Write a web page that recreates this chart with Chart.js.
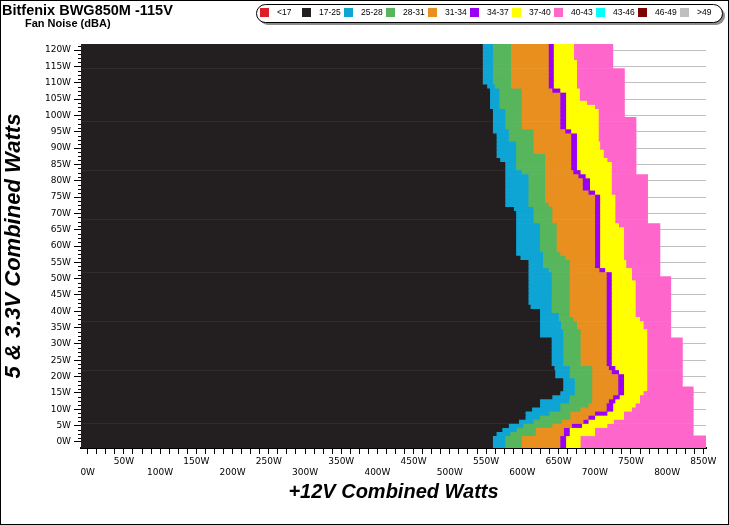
<!DOCTYPE html>
<html>
<head>
<meta charset="utf-8">
<script src="https://cdn.jsdelivr.net/npm/chart.js@4.4.1/dist/chart.umd.min.js"></script>
<style>
    html, body { margin: 0; padding: 0; background: #fff; }
    #wrap { width: 729px; height: 525px; }
</style>
</head>
<body>
<div id="wrap"><canvas id="noiseChart" width="729" height="525"></canvas></div>
<script>
// 5V + 3.3V load rows of the noise map (watts, 1.25 W apart)
const loadRows = [
    -1.25, 0, 1.25, 2.5, 3.75, 5, 6.25, 7.5, 8.75, 10,
    11.25, 12.5, 13.75, 15, 16.25, 17.5, 18.75, 20, 21.25, 22.5,
    23.75, 25, 26.25, 27.5, 28.75, 30, 31.25, 32.5, 33.75, 35,
    36.25, 37.5, 38.75, 40, 41.25, 42.5, 43.75, 45, 46.25, 47.5,
    48.75, 50, 51.25, 52.5, 53.75, 55, 56.25, 57.5, 58.75, 60,
    61.25, 62.5, 63.75, 65, 66.25, 67.5, 68.75, 70, 71.25, 72.5,
    73.75, 75, 76.25, 77.5, 78.75, 80, 81.25, 82.5, 83.75, 85,
    86.25, 87.5, 88.75, 90, 91.25, 92.5, 93.75, 95, 96.25, 97.5,
    98.75, 100, 101.25, 102.5, 103.75, 105, 106.25, 107.5, 108.75, 110,
    111.25, 112.5, 113.75, 115, 116.25, 117.5, 118.75, 120, 121.25
];

// +12V watts where each noise band ends, one value per row
const blackEnd = [
    559, 559, 559, 564, 572, 581, 595, 604, 604, 613,
    624, 624, 641, 652, 656, 656, 656, 645, 645, 644,
    640, 640, 640, 640, 640, 640, 640, 624, 624, 624,
    624, 624, 624, 624, 611, 608, 608, 608, 608, 608,
    608, 608, 608, 608, 608, 608, 597, 591, 591, 591,
    591, 591, 591, 591, 591, 591, 591, 591, 588, 576,
    576, 576, 576, 576, 576, 576, 576, 576, 576, 576,
    569, 564, 564, 564, 564, 564, 564, 559, 559, 559,
    559, 559, 559, 555, 555, 555, 555, 555, 551, 545,
    545, 545, 545, 545, 545, 545, 545, 545, 545
];
const blueEnd = [
    576, 576, 576, 583, 592, 601, 615, 624, 637, 652,
    652, 664, 665, 672, 672, 672, 672, 665, 665, 665,
    656, 656, 656, 656, 656, 656, 656, 656, 656, 653,
    653, 650, 650, 640, 640, 640, 640, 640, 640, 640,
    640, 640, 640, 636, 628, 628, 628, 628, 624, 624,
    624, 624, 624, 624, 624, 615, 615, 615, 615, 608,
    608, 608, 608, 608, 608, 608, 608, 599, 591, 591,
    591, 591, 591, 591, 591, 581, 581, 581, 576, 576,
    576, 576, 576, 568, 568, 568, 568, 568, 562, 559,
    559, 559, 559, 559, 559, 559, 559, 559, 559
];
const greenEnd = [
    599, 599, 599, 618, 618, 641, 654, 666, 666, 680,
    691, 696, 696, 696, 696, 696, 696, 696, 696, 696,
    680, 680, 680, 680, 680, 680, 680, 680, 680, 675,
    675, 670, 665, 665, 665, 665, 665, 665, 665, 665,
    665, 665, 665, 665, 665, 665, 659, 652, 647, 647,
    647, 647, 647, 647, 647, 641, 641, 641, 641, 636,
    631, 631, 631, 631, 631, 631, 631, 631, 631, 631,
    631, 631, 615, 615, 615, 615, 615, 615, 599, 599,
    599, 599, 599, 599, 599, 599, 599, 599, 584, 584,
    584, 584, 584, 584, 584, 584, 584, 584, 584
];
const orangeEnd = [
    652, 652, 652, 657, 657, 668, 684, 691, 700, 716,
    716, 719, 725, 732, 732, 732, 732, 732, 723, 719,
    716, 716, 716, 716, 716, 716, 716, 716, 716, 716,
    716, 716, 716, 716, 716, 716, 716, 716, 716, 716,
    716, 716, 716, 706, 700, 700, 700, 700, 700, 700,
    700, 700, 700, 700, 700, 700, 700, 700, 700, 700,
    700, 700, 691, 683, 683, 683, 677, 670, 667, 667,
    667, 667, 667, 667, 667, 667, 667, 659, 652, 652,
    652, 652, 652, 652, 652, 652, 652, 641, 636, 636,
    636, 636, 636, 636, 636, 636, 636, 636, 636
];
const purpleEnd = [
    660, 660, 660, 665, 665, 682, 691, 700, 717, 725,
    725, 728, 734, 740, 740, 740, 740, 740, 733, 728,
    723, 723, 723, 723, 723, 723, 723, 723, 723, 723,
    723, 723, 723, 723, 723, 723, 723, 723, 723, 723,
    723, 723, 723, 714, 707, 707, 707, 707, 707, 707,
    707, 707, 707, 707, 707, 707, 707, 707, 707, 707,
    707, 707, 700, 693, 693, 693, 687, 680, 675, 675,
    675, 675, 675, 675, 675, 675, 675, 667, 660, 660,
    660, 660, 660, 660, 660, 660, 660, 652, 643, 643,
    643, 643, 643, 643, 643, 643, 643, 643, 643
];
const yellowEnd = [
    680, 680, 680, 700, 700, 717, 726, 740, 740, 751,
    756, 762, 762, 767, 772, 772, 772, 772, 772, 772,
    772, 772, 772, 772, 772, 772, 772, 772, 772, 767,
    767, 762, 756, 756, 756, 756, 756, 756, 756, 756,
    756, 751, 751, 751, 743, 743, 740, 740, 740, 740,
    740, 740, 740, 740, 733, 728, 728, 728, 728, 728,
    728, 728, 723, 723, 723, 723, 723, 723, 723, 723,
    717, 712, 712, 707, 707, 705, 705, 705, 705, 705,
    705, 705, 705, 700, 689, 679, 679, 679, 675, 675,
    675, 675, 675, 675, 675, 671, 671, 671, 671
];
const pinkEnd = [
    854, 854, 854, 836, 836, 836, 836, 836, 836, 836,
    836, 836, 836, 836, 836, 821, 821, 821, 821, 821,
    821, 821, 821, 821, 821, 821, 821, 805, 805, 805,
    805, 805, 805, 805, 805, 805, 805, 805, 805, 805,
    805, 805, 790, 790, 790, 790, 790, 790, 790, 790,
    790, 790, 790, 790, 790, 773, 773, 773, 773, 773,
    773, 773, 773, 773, 773, 773, 773, 757, 757, 757,
    757, 757, 757, 757, 757, 757, 757, 757, 757, 757,
    757, 741, 741, 741, 741, 741, 741, 741, 741, 741,
    741, 741, 741, 725, 725, 725, 725, 725, 725
];

// noise classes (dBA) and their colours
const legendLabels = ['<17', '17-25', '25-28', '28-31', '31-34', '34-37', '37-40', '40-43', '43-46', '46-49', '>49'];
const legendColors = ['#dd2027', '#231f20', '#0ea4d4', '#57b65b', '#e98f1f', '#9b00f5', '#ffff00', '#ff66cc', '#00ffff', '#7f0000', '#bfbfbf'];

// axis ranges (watts)
const X_MIN = -9.25, X_MAX = 853.6;
const Y_MIN = -1.875, Y_MAX = 121.875;

const bandEnds = [blackEnd, blueEnd, greenEnd, orangeEnd, purpleEnd, yellowEnd, pinkEnd];

const datasets = bandEnds.map((ends, b) => ({
    label: legendLabels[b + 1],
    data: loadRows.map((load, i) => ({
        y: load,
        x: [b === 0 ? X_MIN : bandEnds[b - 1][i], ends[i]]
    })),
    backgroundColor: legendColors[b + 1],
    borderWidth: 0,
    grouped: false,
    barPercentage: 1,
    categoryPercentage: 1
}));

const tickFont = { family: 'DejaVu Sans', size: 9 };
const titleFont = { family: 'Liberation Sans', weight: 'bold', style: 'italic' };

// title, subtitle, legend box and the outer frame
const decorPlugin = {
    id: 'decor',
    afterDraw(chart) {
        const ctx = chart.ctx;
        ctx.save();

        ctx.fillStyle = '#000';
        ctx.textBaseline = 'alphabetic';
        ctx.textAlign = 'left';
        ctx.font = 'bold 14.5px "Liberation Sans"';
        ctx.fillText('Bitfenix BWG850M -115V', 2, 15);
        ctx.font = 'bold 11px "Liberation Sans"';
        ctx.fillText('Fan Noise (dBA)', 25, 27);

        // legend pill with shadow
        const lx = 256, ly = 4, lw = 466, lh = 18, r = 9;
        ctx.fillStyle = '#8c8c8c';
        ctx.beginPath();
        ctx.roundRect(lx + 3, ly + 3, lw, lh, r);
        ctx.fill();
        ctx.fillStyle = '#fff';
        ctx.strokeStyle = '#000';
        ctx.lineWidth = 1;
        ctx.beginPath();
        ctx.roundRect(lx + 0.5, ly + 0.5, lw, lh, r);
        ctx.fill();
        ctx.stroke();

        ctx.font = '8.5px "Liberation Sans"';
        ctx.textBaseline = 'middle';
        legendLabels.forEach((lab, i) => {
            const x0 = 260 + i * 42;
            ctx.fillStyle = legendColors[i];
            ctx.fillRect(x0, 8, 9, 9);
            ctx.fillStyle = '#000';
            ctx.fillText(lab, x0 + 17, 13);
        });

        // minor ticks on the load axis
        const yScale = chart.scales.y;
        const left = chart.chartArea.left;
        ctx.strokeStyle = '#000';
        ctx.beginPath();
        loadRows.forEach(v => {
            if (v < 0 || v % 5 === 0) return;
            const py = Math.round(yScale.getPixelForValue(v)) + 0.5;
            ctx.moveTo(left - 3, py);
            ctx.lineTo(left, py);
        });
        ctx.stroke();

        ctx.strokeRect(0.5, 0.5, chart.width - 1, chart.height - 1);
        ctx.restore();
    }
};

new Chart(document.getElementById('noiseChart'), {
    type: 'bar',
    data: { datasets: datasets },
    options: {
        indexAxis: 'y',
        responsive: false,
        animation: false,
        devicePixelRatio: 1,
        layout: { padding: { left: 0, top: 44, right: 23, bottom: 17 } },
        plugins: {
            legend: { display: false },
            tooltip: { enabled: false }
        },
        scales: {
            x: {
                type: 'linear',
                min: X_MIN,
                max: X_MAX,
                offset: false,
                afterFit: scale => { scale.height = 60; },
                ticks: {
                    stepSize: 12.5,
                    includeBounds: false,
                    autoSkip: false,
                    maxRotation: 0,
                    minRotation: 0,
                    padding: 2,
                    color: '#000',
                    font: tickFont,
                    callback: v => {
                        if (v % 50 !== 0) return '';
                        return (v / 50) % 2 === 1 ? [v + 'W'] : ['', v + 'W'];
                    }
                },
                grid: {
                    offset: false,
                    drawOnChartArea: false,
                    tickLength: 6,
                    tickColor: '#000'
                },
                border: { color: '#000', width: 2 },
                title: {
                    display: true,
                    text: '+12V Combined Watts',
                    color: '#000',
                    font: Object.assign({ size: 20 }, titleFont),
                    padding: { top: 0, bottom: 4 }
                }
            },
            y: {
                type: 'linear',
                min: Y_MIN,
                max: Y_MAX,
                offset: false,
                afterFit: scale => { scale.width = 81; },
                ticks: {
                    stepSize: 5,
                    includeBounds: false,
                    padding: 3,
                    color: '#000',
                    font: tickFont,
                    callback: v => v + 'W'
                },
                grid: {
                    offset: false,
                    color: '#c0c0c0',
                    tickLength: 7,
                    tickColor: '#000'
                },
                border: { color: '#000', width: 1 },
                title: {
                    display: true,
                    text: '5 & 3.3V Combined Watts',
                    color: '#000',
                    font: Object.assign({ size: 22 }, titleFont),
                    padding: { top: 1, bottom: 0 }
                }
            }
        }
    },
    plugins: [decorPlugin]
});
</script>
</body>
</html>
